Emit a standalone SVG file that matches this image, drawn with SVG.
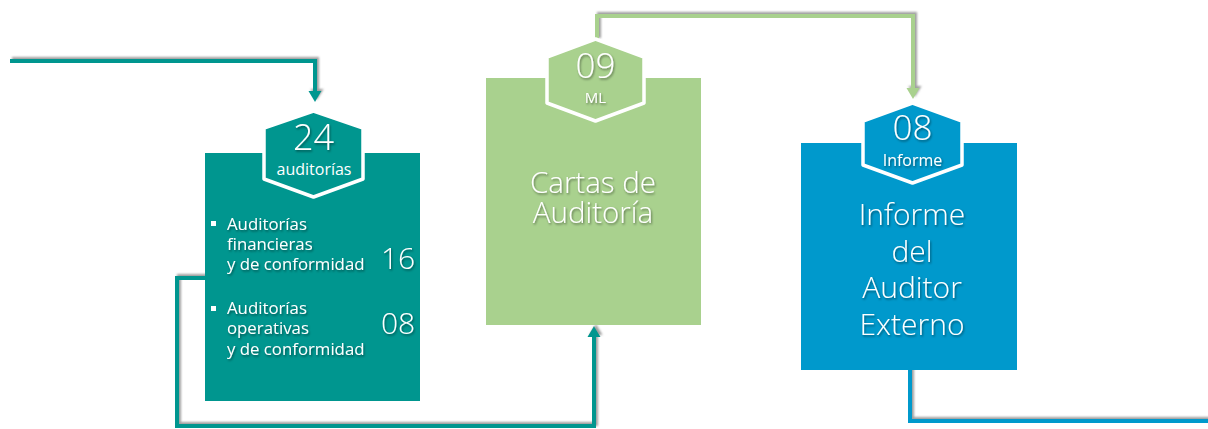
<svg xmlns="http://www.w3.org/2000/svg" width="1208" height="429" viewBox="0 0 1208 429">
  <defs>
    <filter id="lsh" x="-5%" y="-20%" width="110%" height="140%">
      <feDropShadow dx="2" dy="-2" stdDeviation="1" flood-color="#777" flood-opacity="0.7"/>
    </filter>
    <filter id="tsh" x="-10%" y="-20%" width="120%" height="140%">
      <feDropShadow dx="1" dy="1.5" stdDeviation="0.8" flood-color="#000" flood-opacity="0.45"/>
    </filter>
  </defs>
  <style>
    text { font-family: "Open Sans", "Noto Sans", "Liberation Sans", sans-serif; fill: #fff; }
    .lt { font-weight: 300; }
    .c { text-anchor: middle; }
    .hex { stroke: #fff; stroke-width: 3.5; stroke-linejoin: round; }
    .conn { fill: none; stroke-width: 4; }
  </style>
  <rect width="1208" height="429" fill="#fff"/>

  <g id="connectors">
    <g filter="url(#lsh)">
      <path class="conn" stroke="#00968F" d="M10,61 H315 V92"/>
      <polygon fill="#00968F" points="308.5,91 321.5,91 315,102"/>
    </g>
    <g filter="url(#lsh)">
      <path class="conn" stroke="#A9D18E" d="M597,40 V16 H913 V89"/>
      <polygon fill="#A9D18E" points="906.5,88 919.5,88 913,99"/>
    </g>
    <g filter="url(#lsh)">
      <path class="conn" stroke="#0099CC" d="M910,368 V421 H1210"/>
    </g>
    <g filter="url(#lsh)">
      <path class="conn" stroke="#00968F" d="M206,278 H177 V426 H594 V336"/>
      <polygon fill="#00968F" points="587.5,337 600.5,337 594,326"/>
    </g>
  </g>

  <g id="node-auditorias">
    <rect x="205" y="153" width="215" height="248" fill="#00968F"/>
    <path class="hex" fill="#00968F" d="M313.5,111 L363,128 V179 L313.5,197 L264,179 V128 Z"/>
    <text class="c lt" x="313.5" y="150" font-size="36" filter="url(#tsh)">24</text>
    <text class="c" x="314" y="175" font-size="16">auditorías</text>
    <rect x="211" y="221" width="5" height="5" fill="#fff"/>
    <text font-size="16.8" filter="url(#tsh)"><tspan x="227" y="230">Auditorías</tspan><tspan x="227" y="250">financieras</tspan><tspan x="227" y="270">y de conformidad</tspan></text>
    <text class="lt" x="381" y="269" font-size="30" filter="url(#tsh)">16</text>
    <rect x="211" y="306" width="5" height="5" fill="#fff"/>
    <text font-size="16.8" filter="url(#tsh)"><tspan x="227" y="314">Auditorías</tspan><tspan x="227" y="334">operativas</tspan><tspan x="227" y="355">y de conformidad</tspan></text>
    <text class="lt" x="381" y="334" font-size="30" filter="url(#tsh)">08</text>
  </g>

  <g id="node-cartas">
    <rect x="486" y="78" width="215" height="247" fill="#A9D18E"/>
    <path class="hex" fill="#A9D18E" d="M595.5,39 L644,57 V103 L595.5,121 L547,103 V57 Z"/>
    <text class="c lt" x="595.5" y="78" font-size="35" filter="url(#tsh)">09</text>
    <text class="c" x="595.5" y="103" font-size="15" filter="url(#tsh)">ML</text>
    <text class="c lt" font-size="29.5" filter="url(#tsh)"><tspan x="593" y="193">Cartas de</tspan><tspan x="593" y="223">Auditoría</tspan></text>
  </g>

  <g id="node-informe">
    <rect x="801" y="143" width="216" height="227" fill="#0099CC"/>
    <path class="hex" fill="#0099CC" d="M912.5,103 L962,121 V165 L912.5,183 L863,165 V121 Z"/>
    <text class="c lt" x="912.5" y="140" font-size="35" filter="url(#tsh)">08</text>
    <text class="c" x="912.5" y="166" font-size="16" filter="url(#tsh)">Informe</text>
    <text class="c lt" font-size="30" filter="url(#tsh)"><tspan x="912" y="225">Informe</tspan><tspan x="912" y="262">del</tspan><tspan x="912" y="298">Auditor</tspan><tspan x="912" y="335">Externo</tspan></text>
  </g>
</svg>
